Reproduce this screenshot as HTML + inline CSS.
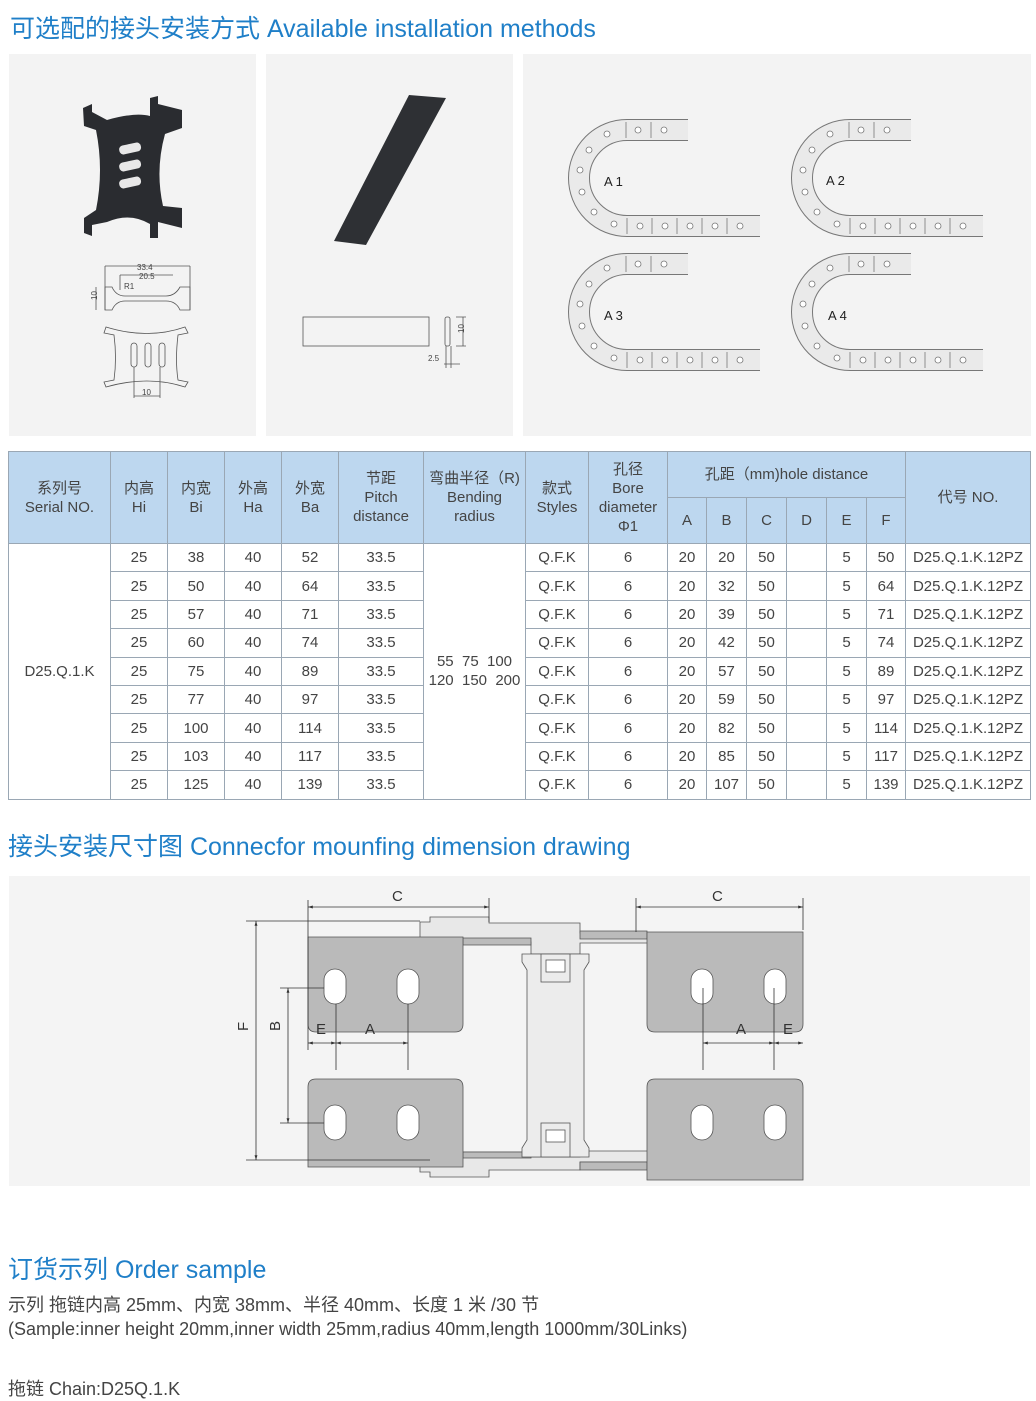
<!DOCTYPE html>
<html><head><meta charset="utf-8">
<style>
body{margin:0;width:1036px;height:1401px;background:#fff;font-family:"Liberation Sans","Noto Sans CJK SC",sans-serif;position:relative;overflow:hidden;color:#444}
.t{position:absolute;color:#1f7fc8;font-size:25px;white-space:nowrap}
.p{position:absolute;background:#f3f3f3}
.tx{position:absolute;font-size:18px;color:#444;white-space:nowrap}
table{position:absolute;left:8px;top:451px;border-collapse:collapse;font-size:15px;color:#444}
td{border:1px solid #9aa7b4;text-align:center;padding:0;line-height:19px}
.h td{background:#bdd7ef}
</style></head><body>
<div class="t" style="left:10px;top:9px">可选配的接头安装方式 Available installation methods</div>
<div class="p" style="left:9px;top:54px;width:247px;height:382px"></div>
<div class="p" style="left:266px;top:54px;width:247px;height:382px"></div>
<div class="p" style="left:523px;top:54px;width:508px;height:382px"></div>

<svg style="position:absolute;left:0;top:0" width="1036" height="440">
<path d="M83,108 L92,104 L92,112 L107,120 Q135,112 150,116 L150,98 L158,96 L158,104 L182,110 L182,128 L165,134 Q155,170 163,206 L182,208 L182,228 L158,222 L158,238 L150,238 L150,224 Q130,212 107,222 L92,225 L92,236 L84,233 L84,218 L96,210 Q104,170 96,130 L84,126 Z" fill="#2a2c30"/>
<rect x="119" y="144" width="22" height="9" rx="4" fill="#e8e8e8" transform="rotate(-12 130 148)"/>
<rect x="119" y="161" width="22" height="9" rx="4" fill="#e8e8e8" transform="rotate(-12 130 165)"/>
<rect x="119" y="178" width="22" height="9" rx="4" fill="#e8e8e8" transform="rotate(-12 130 182)"/>
<g fill="none" stroke="#555" stroke-width="0.8">
<path d="M105,287 L112,287 Q116,296 125,296 L166,296 Q175,296 180,287 L190,287 L190,310 L180,310 Q176,301 166,301 L125,301 Q116,301 112,310 L105,310 Z"/>
<path d="M105,266 L190,266 M105,266 L105,310 M190,266 L190,310 M120,275 L173,275 M120,275 L120,290"/>
<path d="M96,287 L96,310"/>
<path d="M106,327 Q148,340 185,327 L188,333 L178,335 Q175,360 178,380 L188,382 L185,387 Q148,375 106,387 L104,382 L114,380 Q117,358 114,335 L104,333 Z"/>
<rect x="131" y="343" width="6" height="24" rx="3"/><rect x="145" y="343" width="6" height="24" rx="3"/><rect x="159" y="343" width="6" height="24" rx="3"/>
<path d="M134,367 L134,398 M160,367 L160,398 M134,396 L160,396"/>
</g>
<g font-size="8" fill="#444"><text x="137" y="270">33.4</text><text x="139" y="279">20.5</text><text x="124" y="289">R1</text><text x="142" y="395">10</text><text x="94" y="303" transform="rotate(-90 94 300)">10</text></g>
<path d="M409,95 L446,98 L366,245 L334,241 Z" fill="#2e3034"/>
<g fill="none" stroke="#555" stroke-width="0.8"><rect x="303" y="317" width="126" height="29"/><rect x="445" y="317" width="5" height="29" rx="2"/><path d="M456,317 L466,317 M456,346 L466,346 M463,317 L463,346 M444,364 L460,364 M446,346 L446,368 M451,346 L451,368"/></g>
<g font-size="8" fill="#444"><text x="428" y="361">2.5</text><text x="460" y="337" transform="rotate(-90 460 333)">10</text></g>
<defs><g id="ch">
<path d="M688,130 L627,130 A48,48 0 0 0 627,226 L760,226" fill="none" stroke="#777" stroke-width="22"/>
<path d="M688,130 L627,130 A48,48 0 0 0 627,226 L760,226" fill="none" stroke="#eaeaea" stroke-width="20"/>
<g fill="#fff" stroke="#777" stroke-width="0.8">
<circle cx="638" cy="130" r="3"/><circle cx="664" cy="130" r="3"/><circle cx="607" cy="134" r="3"/><circle cx="589" cy="150" r="3"/><circle cx="580" cy="170" r="3"/><circle cx="582" cy="192" r="3"/><circle cx="594" cy="212" r="3"/><circle cx="614" cy="224" r="3"/><circle cx="640" cy="226" r="3"/><circle cx="665" cy="226" r="3"/><circle cx="690" cy="226" r="3"/><circle cx="715" cy="226" r="3"/><circle cx="740" cy="226" r="3"/>
</g>
<g stroke="#777" fill="none" stroke-width="0.8"><path d="M626,122 L626,138 M651,122 L651,138 M627,218 L627,234 M652,218 L652,234 M677,218 L677,234 M702,218 L702,234 M727,218 L727,234"/></g>
</g></defs>
<use href="#ch"/><use href="#ch" x="223"/><use href="#ch" y="134"/><use href="#ch" x="223" y="134"/>
<g font-size="13" fill="#222"><text x="604" y="186">A 1</text><text x="826" y="185">A 2</text><text x="604" y="320">A 3</text><text x="828" y="320">A 4</text></g>
</svg>

<table>
<colgroup><col style="width:102px"><col style="width:57px"><col style="width:57px"><col style="width:57px"><col style="width:57px"><col style="width:85px"><col style="width:102px"><col style="width:63px"><col style="width:79px"><col style="width:39px"><col style="width:40px"><col style="width:40px"><col style="width:40px"><col style="width:40px"><col style="width:39px"><col style="width:125px"></colgroup>
<tr class="h" style="height:46px"><td rowspan="2">系列号<br>Serial NO.</td><td rowspan="2">内高<br>Hi</td><td rowspan="2">内宽<br>Bi</td><td rowspan="2">外高<br>Ha</td><td rowspan="2">外宽<br>Ba</td><td rowspan="2">节距<br>Pitch<br>distance</td><td rowspan="2">弯曲半径（R)<br>Bending<br>radius</td><td rowspan="2">款式<br>Styles</td><td rowspan="2">孔径<br>Bore<br>diameter<br>Φ1</td><td colspan="6">孔距（mm)hole distance</td><td rowspan="2">代号 NO.</td></tr>
<tr class="h" style="height:46px"><td>A</td><td>B</td><td>C</td><td>D</td><td>E</td><td>F</td></tr>
<tr style="height:28.4px"><td rowspan="9">D25.Q.1.K</td><td>25</td><td>38</td><td>40</td><td>52</td><td>33.5</td><td rowspan="9">55 &nbsp;75 &nbsp;100<br>120 &nbsp;150 &nbsp;200</td><td>Q.F.K</td><td>6</td><td>20</td><td>20</td><td>50</td><td></td><td>5</td><td>50</td><td>D25.Q.1.K.12PZ</td></tr>
<tr style="height:28.4px"><td>25</td><td>50</td><td>40</td><td>64</td><td>33.5</td><td>Q.F.K</td><td>6</td><td>20</td><td>32</td><td>50</td><td></td><td>5</td><td>64</td><td>D25.Q.1.K.12PZ</td></tr>
<tr style="height:28.4px"><td>25</td><td>57</td><td>40</td><td>71</td><td>33.5</td><td>Q.F.K</td><td>6</td><td>20</td><td>39</td><td>50</td><td></td><td>5</td><td>71</td><td>D25.Q.1.K.12PZ</td></tr>
<tr style="height:28.4px"><td>25</td><td>60</td><td>40</td><td>74</td><td>33.5</td><td>Q.F.K</td><td>6</td><td>20</td><td>42</td><td>50</td><td></td><td>5</td><td>74</td><td>D25.Q.1.K.12PZ</td></tr>
<tr style="height:28.4px"><td>25</td><td>75</td><td>40</td><td>89</td><td>33.5</td><td>Q.F.K</td><td>6</td><td>20</td><td>57</td><td>50</td><td></td><td>5</td><td>89</td><td>D25.Q.1.K.12PZ</td></tr>
<tr style="height:28.4px"><td>25</td><td>77</td><td>40</td><td>97</td><td>33.5</td><td>Q.F.K</td><td>6</td><td>20</td><td>59</td><td>50</td><td></td><td>5</td><td>97</td><td>D25.Q.1.K.12PZ</td></tr>
<tr style="height:28.4px"><td>25</td><td>100</td><td>40</td><td>114</td><td>33.5</td><td>Q.F.K</td><td>6</td><td>20</td><td>82</td><td>50</td><td></td><td>5</td><td>114</td><td>D25.Q.1.K.12PZ</td></tr>
<tr style="height:28.4px"><td>25</td><td>103</td><td>40</td><td>117</td><td>33.5</td><td>Q.F.K</td><td>6</td><td>20</td><td>85</td><td>50</td><td></td><td>5</td><td>117</td><td>D25.Q.1.K.12PZ</td></tr>
<tr style="height:28.4px"><td>25</td><td>125</td><td>40</td><td>139</td><td>33.5</td><td>Q.F.K</td><td>6</td><td>20</td><td>107</td><td>50</td><td></td><td>5</td><td>139</td><td>D25.Q.1.K.12PZ</td></tr>
</table>

<div class="t" style="left:8px;top:827px">接头安装尺寸图 Connecfor mounfing dimension drawing</div>
<div class="p" style="left:9px;top:876px;width:1021px;height:310px;background:#f4f4f4"></div>
<svg style="position:absolute;left:0;top:0" width="1036" height="1401">
<defs><marker id="ar" viewBox="0 0 10 10" refX="10" refY="5" markerWidth="6" markerHeight="6" orient="auto-start-reverse"><path d="M0,2 L10,5 L0,8 Z" fill="#333"/></marker></defs>
<g stroke="#555" stroke-width="0.8">
<path d="M420,922 L430,922 L430,917 L489,917 L489,923 L580,923 L580,933 L688,933 L690,936 L690,943 L580,943 L580,954 L531,954 L531,942 L463,942 L463,938 L420,938 Z" fill="#e8e8e8"/>
<path d="M420,1172 L430,1172 L430,1177 L489,1177 L489,1170 L580,1170 L580,1162 L688,1162 L690,1158 L690,1151 L580,1151 L580,1157 L531,1157 L531,1152 L463,1152 L463,1158 L420,1158 Z" fill="#e8e8e8"/>
<path d="M580,931 L647,931 L647,939 L580,939 Z" fill="#bbb"/>
<path d="M580,1162 L647,1162 L647,1170 L580,1170 Z" fill="#bbb"/>
<path d="M463,938 L531,938 L531,945 L463,945 Z" fill="#bbb"/>
<path d="M463,1152 L531,1152 L531,1158 L463,1158 Z" fill="#bbb"/>
<path d="M308,937 L463,937 L463,1024 Q463,1032 455,1032 L316,1032 Q308,1032 308,1024 Z" fill="#bababa"/>
<path d="M316,1079 L455,1079 Q463,1079 463,1087 L463,1167 L308,1167 L308,1087 Q308,1079 316,1079 Z" fill="#bababa"/>
<path d="M647,932 L803,932 L803,1024 Q803,1032 795,1032 L655,1032 Q647,1032 647,1024 Z" fill="#bababa"/>
<path d="M655,1079 L795,1079 Q803,1079 803,1087 L803,1180 L647,1180 L647,1087 Q647,1079 655,1079 Z" fill="#bababa"/>
<path d="M522,954 L589,954 L589,962 L584,970 L584,1140 L589,1148 L589,1157 L522,1157 L522,1148 L527,1140 L527,970 L522,962 Z" fill="#ececec"/>
<rect x="541" y="954" width="29" height="28" fill="#ececec"/><rect x="546" y="960" width="19" height="12" fill="#fff"/>
<rect x="541" y="1123" width="29" height="34" fill="#ececec"/><rect x="546" y="1130" width="19" height="12" fill="#fff"/>
</g>
<g fill="#fff" stroke="#555" stroke-width="0.8">
<rect x="324" y="969" width="22" height="35" rx="11"/><rect x="397" y="969" width="22" height="35" rx="11"/>
<rect x="324" y="1105" width="22" height="35" rx="11"/><rect x="397" y="1105" width="22" height="35" rx="11"/>
<rect x="691" y="969" width="22" height="35" rx="11"/><rect x="764" y="969" width="22" height="35" rx="11"/>
<rect x="691" y="1105" width="22" height="35" rx="11"/><rect x="764" y="1105" width="22" height="35" rx="11"/>
</g>
<g stroke="#333" stroke-width="0.8" fill="none">
<path d="M308,900 L308,1050 M489,898 L489,922 M636,898 L636,932 M803,898 L803,930 M246,921 L420,921 M246,1160 L430,1160 M280,988 L324,988 M280,1123 L324,1123 M336,1004 L336,1070 M408,1004 L408,1070 M703,988 L703,1070 M774,988 L774,1070"/>
<g marker-start="url(#ar)" marker-end="url(#ar)">
<path d="M308,907 L489,907"/><path d="M636,907 L803,907"/>
<path d="M256,921 L256,1160"/><path d="M288,988 L288,1123"/>
<path d="M308,1043 L336,1043"/><path d="M336,1043 L408,1043"/>
<path d="M703,1043 L774,1043"/><path d="M774,1043 L803,1043"/>
</g>
</g>
<g font-size="15" fill="#333"><text x="392" y="901">C</text><text x="712" y="901">C</text><text x="316" y="1034">E</text><text x="365" y="1034">A</text><text x="736" y="1034">A</text><text x="783" y="1034">E</text>
<text x="248" y="1041" transform="rotate(-90 243 1036)">F</text><text x="280" y="1041" transform="rotate(-90 275 1036)">B</text></g>
</svg>

<div class="t" style="left:8px;top:1250px">订货示列 Order sample</div>
<div class="tx" style="left:8px;top:1291px">示列 拖链内高 25mm、内宽 38mm、半径 40mm、长度 1 米 /30 节</div>
<div class="tx" style="left:8px;top:1319px">(Sample:inner height 20mm,inner width 25mm,radius 40mm,length 1000mm/30Links)</div>
<div class="tx" style="left:8px;top:1375px">拖链 Chain:D25Q.1.K</div>
</body></html>
